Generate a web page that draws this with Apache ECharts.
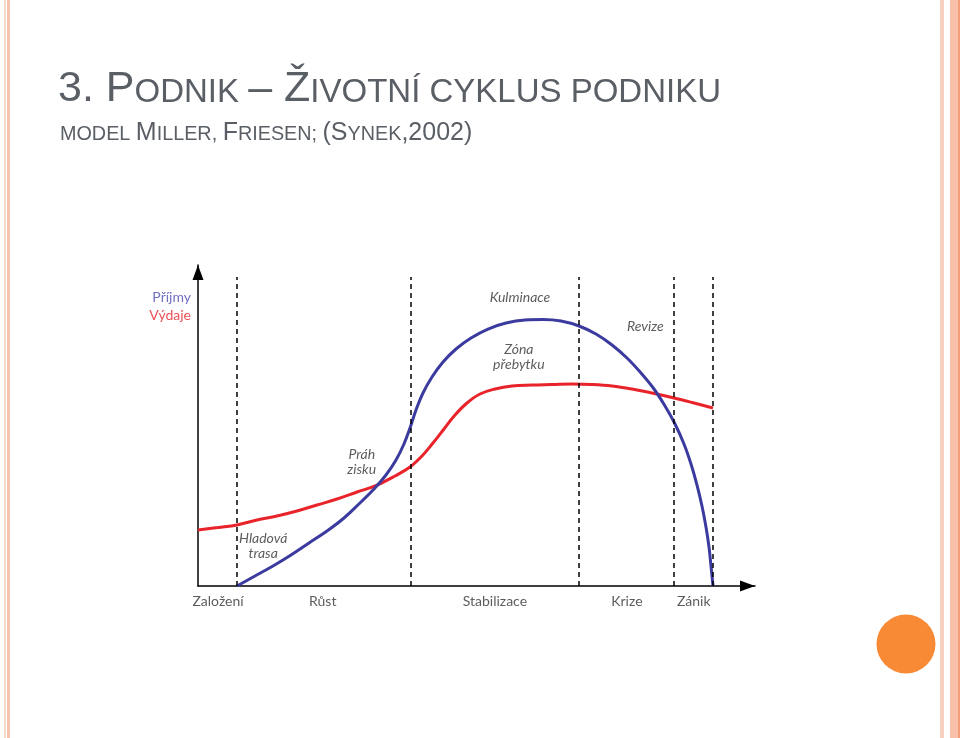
<!DOCTYPE html>
<html><head><meta charset="utf-8">
<script src="https://cdn.jsdelivr.net/npm/echarts@6/dist/echarts.min.js"></script>
<style>html,body{margin:0;padding:0;background:#fff}#c{width:960px;height:738px}</style>
</head><body><div id="c"></div>
<script>
// Curves (x: time 0..100, y: level 0..100)
var prijmy = [[7.00,0],[10.23,3.12],[13.46,6.23],[16.70,9.66],[19.93,13.40],[23.16,17.13],[26.21,21.18],[29.08,25.86],[31.60,30.22],[33.75,34.58],[35.55,39.25],[36.98,44.24],[38.06,49.22],[39.14,54.83],[40.39,60.12],[42.01,65.11],[43.99,69.78],[46.32,73.83],[49.01,77.26],[52.06,80.06],[55.30,81.93],[58.71,82.87],[61.94,83.02],[65.17,82.55],[68.40,81.00],[71.45,78.50],[74.33,75.08],[77.02,71.03],[79.53,66.36],[81.87,61.37],[83.84,56.07],[85.64,50.47],[87.25,44.24],[88.51,38.01],[89.59,31.46],[90.48,24.92],[91.20,18.38],[91.74,12.15],[92.10,6.23],[92.46,0]];
var vydaje = [[0,17.45],[3.59,18.22],[7.00,19.00],[10.59,20.56],[14.18,21.81],[17.77,23.36],[21.36,25.23],[24.96,27.10],[28.55,29.28],[32.14,31.46],[35.37,34.27],[38.06,37.07],[40.22,40.50],[42.19,44.55],[44.17,48.91],[46.14,53.27],[48.29,57.01],[50.63,59.81],[53.32,61.37],[56.37,62.31],[59.96,62.62],[63.55,62.77],[67.15,62.93],[70.74,62.77],[74.33,62.31],[77.92,61.37],[81.51,60.12],[85.10,58.72],[88.69,57.17],[92.46,55.45]];
// Phase boundaries
var boundaries = [7, 38.2, 68.4, 85.5, 92.5];
var boundaryTop = 96.3;
// Phase names (x centre)
var phaseNames = ['Založení','Růst','Stabilizace','Krize','Zánik'];
var phaseX = [3.6, 22.4, 53.3, 77.0, 89.0];
// Annotations
var noteText = ['Kulminace','Zóna\npřebytku','Revize','Práh\nzisku','Hladová\ntrasa'];
var noteX = [57.8, 57.6, 80.3, 29.4, 11.7];
var noteY = [90.0, 71.3, 81.0, 38.6, 12.5];
var legendNames = ['Příjmy','Výdaje'];
var legendY = [90.0, 84.4];

var BLUE = '#3b3b9f', RED = '#e8232a';
var chart = echarts.init(document.getElementById('c'));
var axisLine = {show:true, symbol:['none','triangle'], symbolSize:[11,15], symbolOffset:[0,-7.5], lineStyle:{color:'#000', width:1.5}};

chart.setOption({
  backgroundColor:'#fff',
  animation:false,
  grid:{left:198, top:265, width:557, height:321, containLabel:false},
  xAxis:{type:'value', min:0, max:100, splitLine:{show:false}, axisTick:{show:false}, axisLabel:{show:false}, axisLine:axisLine},
  yAxis:{type:'value', min:0, max:100, splitLine:{show:false}, axisTick:{show:false}, axisLabel:{show:false}, axisLine:axisLine},
  graphic:[
    {type:'rect', shape:{x:4,y:0,width:2,height:738}, style:{fill:'#f3dccb'}},
    {type:'rect', shape:{x:7,y:0,width:3,height:738}, style:{fill:'#f7c4b0'}},
    {type:'rect', shape:{x:940,y:0,width:4,height:738}, style:{fill:'#f8d0bf'}},
    {type:'rect', shape:{x:950,y:0,width:8,height:738}, style:{fill:'#f9c0aa'}},
    {type:'rect', shape:{x:958,y:0,width:2,height:738}, style:{fill:'#f4a07a'}},
    {type:'circle', shape:{cx:906, cy:644, r:29.5}, style:{fill:'#f98a35'}},
    {type:'text', left:58, top:68, style:{
      text:'{b|3. P}{s|ODNIK }{b|– Ž}{s|IVOTNÍ CYKLUS PODNIKU}',
      rich:{b:{fontFamily:'Liberation Sans', fontSize:43, fill:'#5a5f66', verticalAlign:'bottom'},
            s:{fontFamily:'Liberation Sans', fontSize:33, fill:'#5a5f66', verticalAlign:'bottom', padding:[0,0,2,0]}}}},
    {type:'text', left:60, top:121, style:{
      text:'{s|MODEL }{b|M}{s|ILLER, }{b|F}{s|RIESEN; }{b|(S}{s|YNEK}{b|,2002)}',
      rich:{b:{fontFamily:'Liberation Sans', fontSize:25, fill:'#5a5f66', verticalAlign:'bottom'},
            s:{fontFamily:'Liberation Sans', fontSize:19.8, fill:'#5a5f66', verticalAlign:'bottom', padding:[0,0,1,0]}}}}
  ],
  series:[
    {type:'line', data:vydaje, smooth:0.4, symbol:'none', lineStyle:{color:RED, width:3}, z:3},
    {type:'line', data:prijmy, smooth:0.4, symbol:'none', lineStyle:{color:BLUE, width:3}, z:4},
    {type:'line', data:[], markLine:{silent:true, symbol:'none', label:{show:false},
      lineStyle:{color:'#000', type:[5,4], width:1.5},
      data: boundaries.map(function(b){return [{coord:[b,0]},{coord:[b,boundaryTop]}];})}},
    {type:'scatter', symbolSize:0, clip:false, silent:true,
      data: phaseNames.map(function(n,i){return {value:[phaseX[i],0], name:n};}),
      label:{show:true, position:'bottom', distance:8, formatter:'{b}', fontFamily:'Lato', fontSize:14, color:'#333'}},
    {type:'scatter', symbolSize:0, clip:false, silent:true,
      data: noteText.map(function(n,i){return {value:[noteX[i],noteY[i]], name:n};}),
      label:{show:true, position:'inside', formatter:'{b}', fontFamily:'Lato', fontStyle:'italic', fontSize:14, lineHeight:15, color:'#333'}},
    {type:'scatter', symbolSize:0, clip:false, silent:true,
      data: legendNames.map(function(n,i){return {value:[0,legendY[i]], name:n, label:{color: i===0?'#4b4bb0':RED}};}),
      label:{show:true, position:'left', distance:7, formatter:'{b}', fontFamily:'Lato', fontSize:14}}
  ]
});
</script></body></html>
